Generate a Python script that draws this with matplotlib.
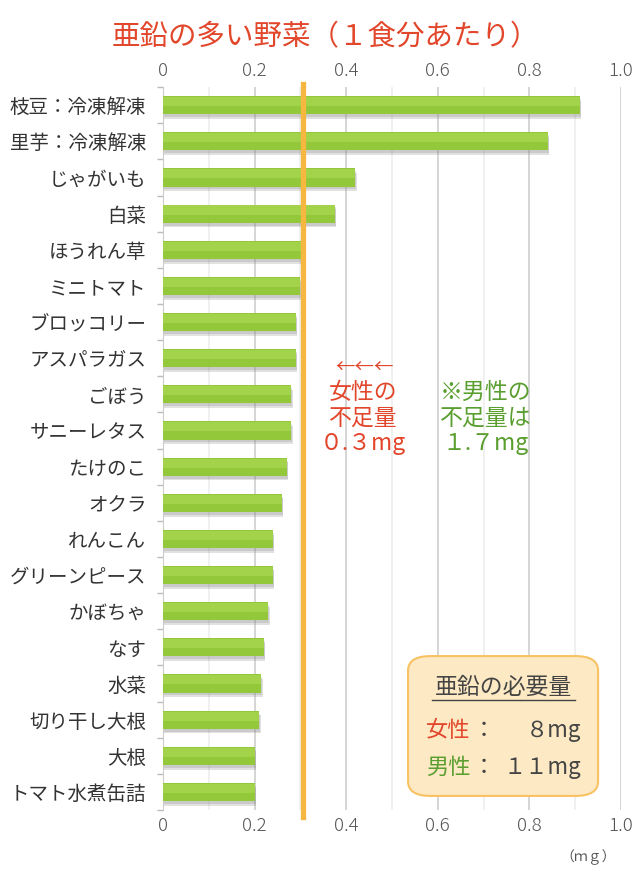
import matplotlib
matplotlib.use('Agg')
import matplotlib.pyplot as plt
from matplotlib.patches import FancyBboxPatch
import numpy as np

plt.rcParams['font.family'] = ['Noto Sans CJK JP', 'DejaVu Sans']

# data
vegetables = ['枝豆：冷凍解凍', '里芋：冷凍解凍', 'じゃがいも', '白菜', 'ほうれん草',
              'ミニトマト', 'ブロッコリー', 'アスパラガス', 'ごぼう', 'サニーレタス',
              'たけのこ', 'オクラ', 'れんこん', 'グリーンピース', 'かぼちゃ',
              'なす', '水菜', '切り干し大根', '大根', 'トマト水煮缶詰']
zinc = [0.91, 0.84, 0.42, 0.375, 0.31,
        0.30, 0.29, 0.29, 0.28, 0.28,
        0.27, 0.26, 0.24, 0.24, 0.23,
        0.22, 0.215, 0.21, 0.20, 0.20]
shortfall_female = 0.3
xticks = [0, 0.2, 0.4, 0.6, 0.8, 1.0]
xtick_labels = ['0', '0.2', '0.4', '0.6', '0.8', '1.0']

RED = '#e2462b'
GREEN = '#5a9e2f'
ORANGE = '#f6b740'
DARK = '#444444'

fig = plt.figure(figsize=(6.4, 8.8), dpi=100)
ax = fig.add_axes([0.2547, 0.0795, 0.7156, 0.8215])

y = np.arange(len(vegetables))
# soft shadow then bar
ax.barh(y + 0.13, zinc, height=0.5, left=0.003, color='#888888', alpha=0.25, zorder=2)
ax.barh(y + 0.08, zinc, height=0.5, left=0.002, color='#888888', alpha=0.25, zorder=2)
ax.barh(y, zinc, height=0.5, color='#93c83a', zorder=3)
ax.barh(y - 0.1, zinc, height=0.25, color='#a3d34a', zorder=3)

ax.set_ylim(len(vegetables) - 0.5, -0.5)
ax.set_xlim(0, 1.0)
ax.set_yticks(y)
ax.set_yticklabels(vegetables, fontsize=14, color='#333333')
ax.set_yticks(np.arange(len(vegetables) + 1) - 0.5, minor=True)
ax.tick_params(axis='y', which='major', length=0, pad=12)
ax.tick_params(axis='y', which='minor', length=4, color='#bbbbbb', width=1)

ax.set_xticks(xticks)
ax.set_xticklabels(xtick_labels)
ax.set_xticks(np.arange(0.1, 1.0, 0.2), minor=True)
ax.tick_params(axis='x', which='both', length=0, top=True, labeltop=True,
               labelsize=13.5, labelcolor='#555555', pad=5)
for lab in ax.get_xticklabels():
    lab.set_fontweight('light')
ax.grid(axis='x', which='major', color='#d2d2d2', lw=1.3, zorder=0)
ax.grid(axis='x', which='minor', color='#ececec', lw=1.1, zorder=0)
ax.set_axisbelow(True)
for s in ['top', 'right', 'bottom']:
    ax.spines[s].set_visible(False)
ax.spines['left'].set_color('#cccccc')

# orange line for female shortfall
ax.axvline(shortfall_female + 0.005, ymin=-0.01, ymax=1.004, color=ORANGE, lw=3.8,
           zorder=4, clip_on=False)

fig.text(0.508, 0.958, '亜鉛の多い野菜（１食分あたり）', ha='center', va='center',
         fontsize=20.5, color=RED)

ax.text(0.439, 7.25, '←←←', ha='center', va='center', fontsize=14, color=RED)
ax.text(0.437, 8.66, '女性の\n不足量\n０.３mg', ha='center', va='center',
        fontsize=16.5, color=RED, linespacing=1.15)
ax.text(0.705, 8.66, '※男性の\n不足量は\n１.７mg', ha='center', va='center',
        fontsize=16.5, color=GREEN, linespacing=1.15)

# required amount box
box = FancyBboxPatch((0.535, 15.24), 0.415, 3.87, boxstyle='round,pad=0,rounding_size=0.05',
                     mutation_aspect=8, facecolor='#fde9c4', edgecolor='#f8c263', lw=1.5,
                     zorder=5, transform=ax.transData)
ax.add_patch(box)
ax.text(0.744, 16.1, '亜鉛の必要量', ha='center', va='center', fontsize=16.5,
        color=DARK, zorder=6)
ax.plot([0.587, 0.90], [16.45, 16.45], color=DARK, lw=1, zorder=6)
ax.text(0.574, 17.3, '女性', ha='left', va='center', fontsize=16, color=RED, zorder=6)
ax.text(0.70, 17.3, '：', ha='center', va='center', fontsize=16, color=DARK, zorder=6)
ax.text(0.912, 17.3, '８mg', ha='right', va='center', fontsize=16, color=DARK, zorder=6)
ax.text(0.574, 18.33, '男性', ha='left', va='center', fontsize=16, color=GREEN, zorder=6)
ax.text(0.70, 18.33, '：', ha='center', va='center', fontsize=16, color=DARK, zorder=6)
ax.text(0.912, 18.33, '１１mg', ha='right', va='center', fontsize=16, color=DARK, zorder=6)

fig.text(0.919, 0.026, '（ｍｇ）', ha='center', va='center', fontsize=10, color='#555555')

fig.savefig('out.png', dpi=100)
